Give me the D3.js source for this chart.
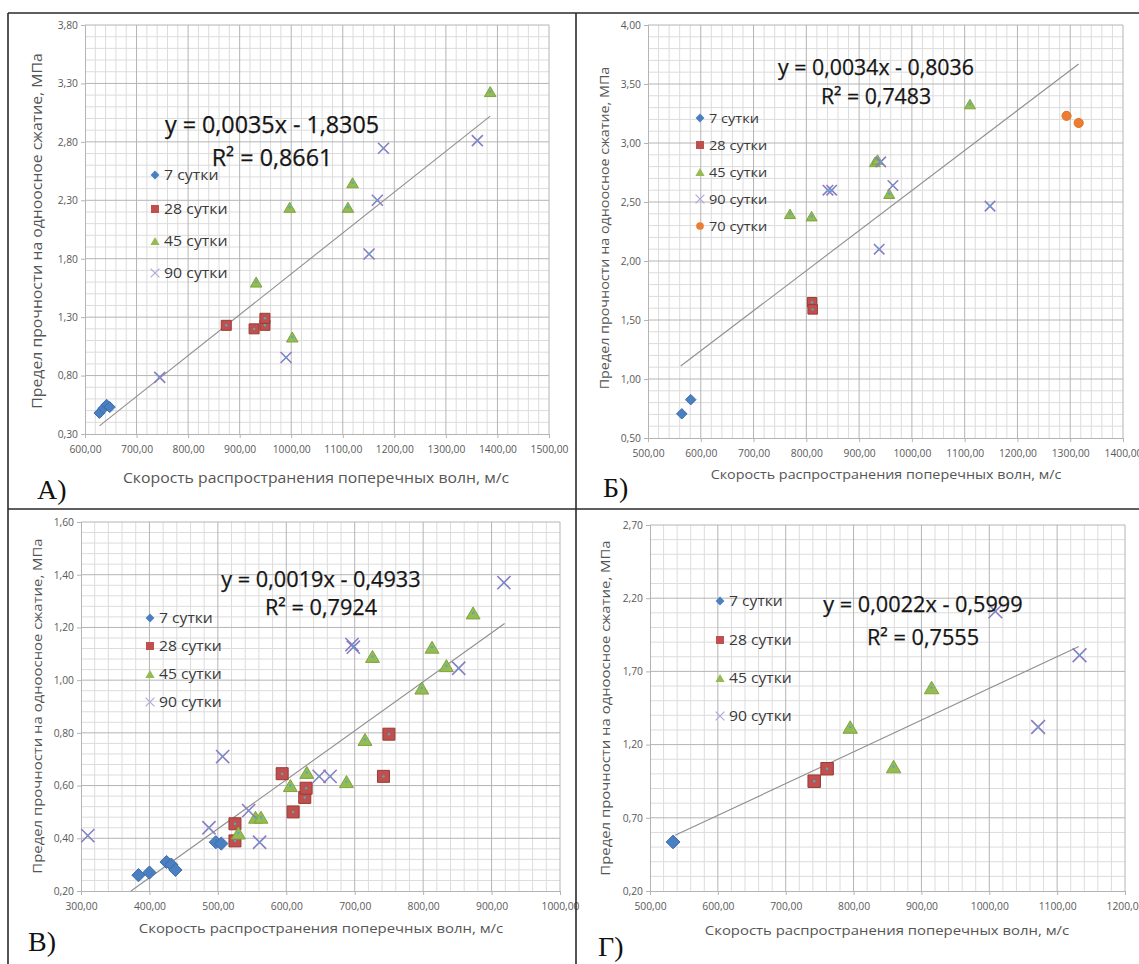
<!DOCTYPE html>
<html lang="ru">
<head>
  <meta charset="UTF-8">
  <title>Прочность vs скорость поперечных волн</title>
  <script src="https://d3js.org/d3.v7.min.js"></script>
  <style>
    html, body { margin: 0; padding: 0; background: #fff; overflow: hidden; }
    svg { font-family: "Open Sans", sans-serif; }
  </style>
</head>
<body>
<div id="chart"></div>
<script>
  // ---- data ----
  // panel А
  const aX = [600, 700, 800, 900, 1000, 1100, 1200, 1300, 1400, 1500];
  const aY = [0.3, 0.8, 1.3, 1.8, 2.3, 2.8, 3.3, 3.8];
  const a7  = [[628, 0.48], [636, 0.52], [642, 0.55], [648, 0.53]];
  const a28 = [[874, 1.23], [928, 1.20], [949, 1.23], [949, 1.29]];
  const a45 = [[932, 1.60], [997, 2.24], [1002, 1.13], [1110, 2.24], [1119, 2.45], [1386, 3.23]];
  const a90 = [[745, 0.785], [990, 0.955], [1151, 1.84], [1167, 2.30], [1179, 2.745], [1361, 2.81]];
  const aTrend = [[628, 0.37], [1386, 3.02]];
  const aEq = ["y = 0,0035x - 1,8305", "R² = 0,8661"];

  // panel Б
  const bX = [500, 600, 700, 800, 900, 1000, 1100, 1200, 1300, 1400];
  const bY = [0.5, 1.0, 1.5, 2.0, 2.5, 3.0, 3.5, 4.0];
  const b7  = [[564, 0.705], [581, 0.825]];
  const b28 = [[811, 1.65], [812, 1.59]];
  const b45 = [[769, 2.40], [810, 2.38], [930, 2.84], [935, 2.86], [957, 2.57], [1110, 3.33]];
  const b90 = [[841, 2.60], [848, 2.60], [938, 2.10], [941, 2.84], [964, 2.64], [1148, 2.465]];
  const b70 = [[1293, 3.23], [1316, 3.17]];
  const bTrend = [[562, 1.11], [1316, 3.67]];
  const bEq = ["y = 0,0034x - 0,8036", "R² = 0,7483"];

  // panel В
  const vX = [300, 400, 500, 600, 700, 800, 900, 1000];
  const vY = [0.2, 0.4, 0.6, 0.8, 1.0, 1.2, 1.4, 1.6];
  const v7  = [[384, 0.26], [400, 0.27], [425, 0.31], [432, 0.30], [438, 0.28], [497, 0.385], [505, 0.38]];
  const v28 = [[525, 0.39], [525, 0.455], [594, 0.645], [610, 0.50], [627, 0.555], [629, 0.59], [742, 0.635], [750, 0.795]];
  const v45 = [[530, 0.42], [555, 0.48], [563, 0.48], [606, 0.60], [630, 0.65], [688, 0.615], [715, 0.775],
               [726, 1.09], [798, 0.97], [813, 1.125], [834, 1.055], [873, 1.255]];
  const v90 = [[310, 0.41], [487, 0.44], [507, 0.71], [545, 0.505], [561, 0.385], [648, 0.635], [664, 0.635],
               [696, 1.135], [698, 1.125], [852, 1.045], [918, 1.37]];
  const vTrend = [[373, 0.20], [919, 1.215]];
  const vEq = ["y = 0,0019x - 0,4933", "R² = 0,7924"];

  // panel Г
  const gX = [500, 600, 700, 800, 900, 1000, 1100, 1200];
  const gY = [0.2, 0.7, 1.2, 1.7, 2.2, 2.7];
  const g7  = [[534, 0.535]];
  const g28 = [[742, 0.95], [761, 1.035]];
  const g45 = [[795, 1.32], [859, 1.05], [915, 1.59]];
  const g90 = [[1009, 2.11], [1072, 1.32], [1133, 1.81]];
  const gTrend = [[537, 0.58], [1132, 1.87]];
  const gEq = ["y = 0,0022x - 0,5999", "R² = 0,7555"];

  const yTitle = "Предел прочности на одноосное сжатие, МПа";
  const xTitle = "Скорость распространения поперечных волн, м/с";

  // ---- styling / layout ----
  const W = 1139, H = 964;
  const SX = 1.12; // small text in the source is a bit wide
  const fmt = d3.formatLocale({decimal: ",", thousands: " ", grouping: [3], currency: ["", ""]}).format(".2f");

  const style = {
    diamond:  {fill: "#4a7fc1", stroke: "#3d6cab"},
    square:   {fill: "#c0504d", stroke: "#973a37"},
    triangle: {fill: "#95bb52", stroke: "#7fa43f"},
    cross:    {fill: "none", stroke: "#8a7cc4"},
    circle:   {fill: "#ed7d31", stroke: "#e0701f"}
  };

  function shape(type, s) {
    if (type === "diamond") { const r = s * 0.55; return `M0,${-r}L${r},0L0,${r}L${-r},0Z`; }
    if (type === "square")  { const r = s / 2; return `M${-r},${-r}H${r}V${r}H${-r}Z`; }
    if (type === "triangle"){ const w = s * 0.58, h = s * 0.5; return `M0,${-h}L${w},${h}L${-w},${h}Z`; }
    if (type === "cross")   { const r = s * 0.55; return `M${-r},${-r}L${r},${r}M${-r},${r}L${r},${-r}`; }
    const r = s * 0.48;
    return `M${r},0A${r},${r} 0 1,1 ${-r},0A${r},${r} 0 1,1 ${r},0Z`;
  }

  const panels = [
    {box: [85, 549, 25, 434], xt: aX, yt: aY, trend: aTrend, eq: aEq, ms: 10,
     series: [["7 сутки", "diamond", a7], ["28 сутки", "square", a28], ["45 сутки", "triangle", a45], ["90 сутки", "cross", a90]],
     eqPos: [272, 125, 158], eqSize: 23.3,
     leg: {x: 155, ys: [175, 209, 241, 273], size: 14.2},
     yTitle: [37, 231], xTitle: [316, 478], titleSize: 14.1, label: ["А)", 37, 489]},
    {box: [648, 1123, 25, 438], xt: bX, yt: bY, trend: bTrend, eq: bEq, ms: 9.5,
     series: [["7 сутки", "diamond", b7], ["28 сутки", "square", b28], ["45 сутки", "triangle", b45],
              ["90 сутки", "cross", b90], ["70 сутки", "circle", b70]],
     eqPos: [876, 68, 97], eqSize: 21.3,
     leg: {x: 700, ys: [118, 145, 172, 199, 226], size: 13},
     yTitle: [605, 228], xTitle: [886, 475], titleSize: 12.8, label: ["Б)", 603, 487]},
    {box: [81, 560, 522, 891], xt: vX, yt: vY, trend: vTrend, eq: vEq, ms: 12,
     series: [["7 сутки", "diamond", v7], ["28 сутки", "square", v28], ["45 сутки", "triangle", v45], ["90 сутки", "cross", v90]],
     eqPos: [321, 579, 607], eqSize: 21.7,
     leg: {x: 150, ys: [618, 646, 674, 702], size: 14},
     yTitle: [37, 706], xTitle: [321, 928], titleSize: 13.3, label: ["В)", 28, 941]},
    {box: [650, 1125, 525, 891], xt: gX, yt: gY, trend: gTrend, eq: gEq, ms: 12.5,
     series: [["7 сутки", "diamond", g7], ["28 сутки", "square", g28], ["45 сутки", "triangle", g45], ["90 сутки", "cross", g90]],
     eqPos: [923, 604, 637], eqSize: 21.7,
     leg: {x: 720, ys: [601, 640, 678, 716], size: 14},
     yTitle: [605, 708], xTitle: [887, 930], titleSize: 13.3, label: ["Г)", 598, 946]}
  ];

  const svg = d3.select("#chart").append("svg")
    .attr("width", W).attr("height", H)
    .attr("viewBox", `0 0 ${W} ${H}`);

  // text helper, optionally stretched sideways
  function txt(g, x, y, s, size, o = {}) {
    return g.append("text")
      .attr("transform", `translate(${x},${y})` + (o.rot ? ` rotate(${o.rot})` : "") + ` scale(${o.sx ?? SX},1)`)
      .attr("text-anchor", o.anchor || "start")
      .attr("dy", "0.35em")
      .attr("font-size", size)
      .attr("font-family", o.family || "'Open Sans', sans-serif")
      .attr("fill", o.fill || "#404040")
      .text(s);
  }

  // split each major interval into 5
  function subdivide(t) {
    const out = [];
    for (let i = 0; i < t.length - 1; i++) {
      for (let k = 1; k < 5; k++) out.push(t[i] + (t[i + 1] - t[i]) * k / 5);
    }
    return out;
  }

  panels.forEach(p => {
    const [l, r, t, b] = p.box;
    const x = d3.scaleLinear().domain(d3.extent(p.xt)).range([l, r]);
    const y = d3.scaleLinear().domain(d3.extent(p.yt)).range([b, t]);
    const g = svg.append("g");

    // gridlines
    const grid = g.append("g").attr("fill", "none");
    grid.selectAll(".vx").data(subdivide(p.xt)).join("line")
      .attr("x1", d => x(d)).attr("x2", d => x(d)).attr("y1", t).attr("y2", b)
      .attr("stroke", "#dcdcdc").attr("stroke-width", 1);
    grid.selectAll(".hy").data(subdivide(p.yt)).join("line")
      .attr("class", "hy")
      .attr("x1", l).attr("x2", r).attr("y1", d => y(d)).attr("y2", d => y(d))
      .attr("stroke", "#dcdcdc").attr("stroke-width", 1);
    grid.selectAll(".mx").data(p.xt.slice(1)).join("line")
      .attr("class", "mx")
      .attr("x1", d => x(d)).attr("x2", d => x(d)).attr("y1", t).attr("y2", b)
      .attr("stroke", "#b4b4b4").attr("stroke-width", 1);
    grid.selectAll(".my").data(p.yt.slice(1)).join("line")
      .attr("class", "my")
      .attr("x1", l).attr("x2", r).attr("y1", d => y(d)).attr("y2", d => y(d))
      .attr("stroke", "#b4b4b4").attr("stroke-width", 1);

    // axes
    const ax = g.append("g").attr("transform", `translate(0,${b})`)
      .call(d3.axisBottom(x).tickValues(p.xt).tickFormat(fmt).tickSize(4).tickPadding(8));
    const ay = g.append("g").attr("transform", `translate(${l},0)`)
      .call(d3.axisLeft(y).tickValues(p.yt).tickFormat(fmt).tickSize(4).tickPadding(3));
    [ax, ay].forEach(a => {
      a.select(".domain").attr("stroke", "#b4b4b4");
      a.selectAll(".tick line").attr("stroke", "#b4b4b4");
      a.selectAll(".tick text").attr("font-size", 10.3).attr("fill", "#5a5a5a")
        .attr("font-family", "'Open Sans', sans-serif");
    });

    // trendline
    g.append("path")
      .attr("d", d3.line().x(d => x(d[0])).y(d => y(d[1]))(p.trend))
      .attr("fill", "none").attr("stroke", "#8f8f8f").attr("stroke-width", 1.1);

    // markers
    p.series.forEach(([name, type, data]) => {
      const st = style[type];
      const ms = g.append("g").selectAll("g").data(data).join("g")
        .attr("transform", d => `translate(${x(d[0])},${y(d[1])})`);
      ms.append("path")
        .attr("d", shape(type, p.ms))
        .attr("fill", st.fill).attr("stroke", st.stroke)
        .attr("stroke-width", type === "cross" ? 1.6 : 1);
      if (type !== "circle" && type !== "diamond") {
        ms.append("circle").attr("r", 1.2).attr("fill", "#4bacc6");
      }
    });

    // legend
    p.series.forEach(([name, type], i) => {
      const st = style[type];
      const ly = p.leg.ys[i];
      g.append("path")
        .attr("transform", `translate(${p.leg.x},${ly})`)
        .attr("d", shape(type, 8))
        .attr("fill", st.fill).attr("stroke", type === "cross" ? "#b2a8dc" : "none")
        .attr("stroke-width", 1.2);
      txt(g, p.leg.x + 9, ly, name, p.leg.size, {fill: "#3a3a3a"});
    });

    // regression text
    p.eq.forEach((line, i) => {
      txt(g, p.eqPos[0], p.eqPos[1 + i], line, p.eqSize, {anchor: "middle", fill: "#151515", sx: 1})
        .attr("stroke", "#151515").attr("stroke-width", 0.25);
    });

    // axis titles
    txt(g, p.yTitle[0], p.yTitle[1], yTitle, p.titleSize, {anchor: "middle", rot: -90, fill: "#555"});
    txt(g, p.xTitle[0], p.xTitle[1], xTitle, p.titleSize, {anchor: "middle", fill: "#555"});

    // panel letter
    txt(g, p.label[1], p.label[2], p.label[0], 28, {sx: 1, family: "'Liberation Serif', serif", fill: "#111"});
  });

  // panel frame
  const frame = svg.append("g").attr("stroke", "#2a2a2a").attr("stroke-width", 1.6).attr("fill", "none");
  frame.append("line").attr("x1", 8).attr("x2", W).attr("y1", 13).attr("y2", 13);
  frame.append("line").attr("x1", 8).attr("x2", 8).attr("y1", 13).attr("y2", H);
  frame.append("line").attr("x1", 576).attr("x2", 576).attr("y1", 13).attr("y2", H);
  frame.append("line").attr("x1", 8).attr("x2", W).attr("y1", 509).attr("y2", 509);
</script>
</body>
</html>
